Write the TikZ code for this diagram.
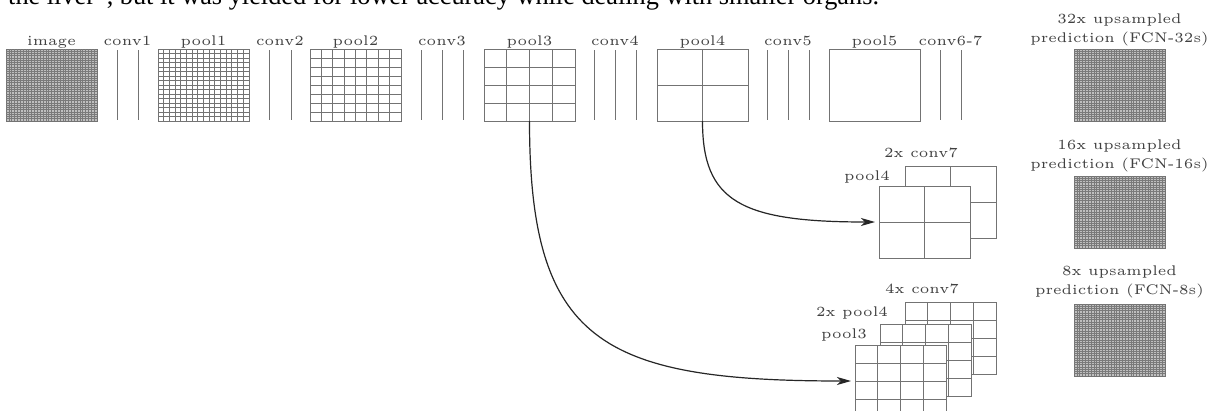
\documentclass[tikz,border=0pt]{standalone}
\usepackage{fontspec}
\newfontfamily\capfont{Liberation Serif}
\usetikzlibrary{calc,arrows.meta}
\tikzset{
  fm/.style={draw=black!55, line width=0.9pt, fill=white, inner sep=0pt, outer sep=0pt,
    minimum width=91pt, minimum height=72pt, anchor=north west},
  densebox/.style={fm, fill=black!25},
  gridln/.style={draw=black!55, line width=0.9pt},
  denseln/.style={draw=black!52, line width=0.6pt},
  convln/.style={draw=black!55, line width=0.9pt},
  lbl/.style={font=\fontsize{5}{6.9}\selectfont, scale=2.8, text=black!75, inner sep=0pt, align=center},
  skiparrow/.style={draw=black!85, line width=1.2pt, -{Stealth[length=14pt,width=8pt,inset=4pt]}, shorten >=4pt}
}
\newcommand\mygrid[4]{%
  \pgfmathtruncatemacro\gcols{#2-1}%
  \pgfmathtruncatemacro\grows{#3-1}%
  \foreach \k in {1,...,\gcols}{\draw[#4] ($(#1.south west)!\k/#2!(#1.south east)$) -- ($(#1.north west)!\k/#2!(#1.north east)$);}%
  \foreach \k in {1,...,\grows}{\draw[#4] ($(#1.south west)!\k/#3!(#1.north west)$) -- ($(#1.south east)!\k/#3!(#1.north east)$);}%
}
\begin{document}
\begin{tikzpicture}[x=1pt,y=-1pt]
\useasboundingbox (0,0) rectangle (1211,410);
\clip (0,0) rectangle (1211,410);
\fill[white] (0,0) rectangle (1211,410);

% cropped caption line of the page
\node[anchor=base west, inner sep=0pt, font=\capfont\fontsize{26.3}{28}\selectfont] (caption) at (8,4.5)
  {the liver”, but it was yielded for lower accuracy while dealing with smaller organs.};

% ---------- top row ----------
\node[densebox] (img) at (6,49) {};
\mygrid{img}{32}{32}{denseln}
\draw[convln] (117,50) -- (117,120) (138,50) -- (138,120);
\node[fm] (pool1) at (158,49) {};
\mygrid{pool1}{16}{16}{gridln}
\draw[convln] (269,50) -- (269,120) (291,50) -- (291,120);
\node[fm] (pool2) at (310,49) {};
\mygrid{pool2}{8}{8}{gridln}
\draw[convln] (421,50) -- (421,120) (442,50) -- (442,120) (463,50) -- (463,120);
\node[fm] (pool3) at (484,49) {};
\mygrid{pool3}{4}{4}{gridln}
\draw[convln] (594,50) -- (594,120) (615,50) -- (615,120) (636,50) -- (636,120);
\node[fm] (pool4) at (657,49) {};
\mygrid{pool4}{2}{2}{gridln}
\draw[convln] (767,50) -- (767,120) (788,50) -- (788,120) (809,50) -- (809,120);
\node[fm] (pool5) at (829,49) {};
\draw[convln] (940,50) -- (940,120) (961,50) -- (961,120);

\node[lbl, anchor=base] (limg) at (51.5,45.5) {image};
\node[lbl, anchor=base] (lc1) at (127.5,45.5) {conv1};
\node[lbl, anchor=base] (lp1) at (203.5,45.5) {pool1};
\node[lbl, anchor=base] (lc2) at (280,45.5) {conv2};
\node[lbl, anchor=base] (lp2) at (355.5,45.5) {pool2};
\node[lbl, anchor=base] (lc3) at (442,45.5) {conv3};
\node[lbl, anchor=base] (lp3) at (529.5,45.5) {pool3};
\node[lbl, anchor=base] (lc4) at (615,45.5) {conv4};
\node[lbl, anchor=base] (lp4) at (702.5,45.5) {pool4};
\node[lbl, anchor=base] (lc5) at (788,45.5) {conv5};
\node[lbl, anchor=base] (lp5) at (874.5,45.5) {pool5};
\node[lbl, anchor=base] (lc67) at (950.5,45.5) {conv6-7};

% ---------- predictions ----------
\node[densebox] (p32) at (1074,49) {};
\mygrid{p32}{32}{32}{denseln}
\node[lbl, anchor=south] (l32) at ($(p32.north)+(0,-2.5)$) {32x upsampled\\prediction (FCN-32s)};
\node[densebox] (p16) at (1074,176) {};
\mygrid{p16}{32}{32}{denseln}
\node[lbl, anchor=south] (l16) at ($(p16.north)+(0,-3.5)$) {16x upsampled\\prediction (FCN-16s)};
\node[densebox] (p8) at (1074,304) {};
\mygrid{p8}{32}{32}{denseln}
\node[lbl, anchor=south] (l8) at ($(p8.north)+(0,-5)$) {8x upsampled\\prediction (FCN-8s)};

% ---------- FCN-16s fusion ----------
\node[fm] (c7a) at (905,166) {};
\mygrid{c7a}{2}{2}{gridln}
\node[fm] (p4a) at (879,186) {};
\mygrid{p4a}{2}{2}{gridln}
\node[lbl, anchor=base] (lc7a) at (921,157) {2x conv7};
\node[lbl, anchor=base] (lp4a) at (867,180) {pool4};

% ---------- FCN-8s fusion ----------
\node[fm] (c7b) at (905,302) {};
\mygrid{c7b}{4}{4}{gridln}
\node[fm] (p4b) at (880,324) {};
\mygrid{p4b}{4}{4}{gridln}
\node[fm] (p3b) at (855,345) {};
\mygrid{p3b}{4}{4}{gridln}
\node[lbl, anchor=base] (lc7b) at (922,293) {4x conv7};
\node[lbl, anchor=base] (lp4b) at (852,316) {2x pool4};
\node[lbl, anchor=base] (lp3b) at (844,338) {pool3};

% ---------- skip connections ----------
\draw[skiparrow] (pool4.south) .. controls +(0,80) and +(-139,0) .. (p4a.west);
\draw[skiparrow] (pool3.south) .. controls +(0,220) and +(-255,0) .. (p3b.west);
\end{tikzpicture}
\end{document}
